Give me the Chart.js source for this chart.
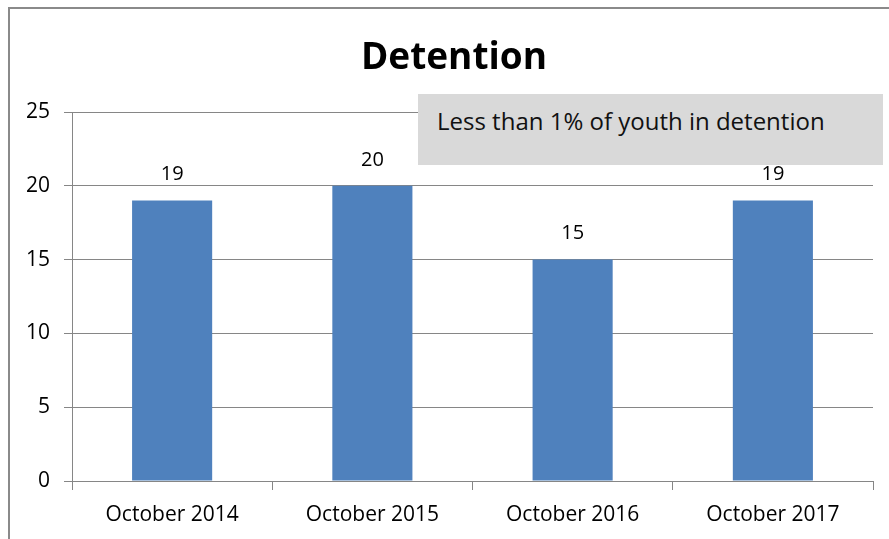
<!DOCTYPE html>
<html>
<head>
<meta charset="utf-8">
<script src="https://cdn.jsdelivr.net/npm/chart.js@4/dist/chart.umd.min.js"></script>
<style>
  html, body { margin: 0; padding: 0; background: #fff; }
  #wrap { position: relative; width: 889px; height: 539px; }
  #title {
    position: absolute; left: 254px; width: 400px; top: 31px; text-align: center;
    font-family: 'Open Sans', sans-serif; font-weight: bold; font-size: 37px; line-height: 48px; color: #000;
  }
  #note {
    position: absolute; left: 418px; top: 94px; width: 465px; height: 71px;
    background: #d9d9d9; font-family: 'Open Sans', sans-serif; font-size: 24px; color: #111;
    box-sizing: border-box; padding: 10px 0 0 19px;
  }
</style>
</head>
<body>
<div id="wrap">
  <canvas id="detentionChart" width="889" height="539"></canvas>
  <div id="title">Detention</div>
  <div id="note">Less than 1% of youth in detention</div>
</div>
<script>
// chart data
const categories = ['October 2014', 'October 2015', 'October 2016', 'October 2017'];
const detentionCounts = [19, 20, 15, 19];
const yTicks = [0, 5, 10, 15, 20, 25];

const gridGray = '#868686';
const fontFamily = "'Open Sans', sans-serif";

// frame line along top and left, like the original sheet border
const framePlugin = {
  id: 'frame',
  beforeDraw(chart) {
    const ctx = chart.ctx;
    ctx.save();
    ctx.strokeStyle = '#8a8a8a';
    ctx.lineWidth = 2;
    ctx.beginPath();
    ctx.moveTo(9, chart.height);
    ctx.lineTo(9, 8);
    ctx.lineTo(chart.width, 8);
    ctx.stroke();
    ctx.restore();
  }
};

// value labels above each bar
const valueLabels = {
  id: 'valueLabels',
  afterDatasetsDraw(chart) {
    const ctx = chart.ctx;
    const meta = chart.getDatasetMeta(0);
    ctx.save();
    ctx.font = '20px ' + fontFamily;
    ctx.fillStyle = '#000';
    ctx.textAlign = 'center';
    ctx.textBaseline = 'middle';
    meta.data.forEach((bar, i) => {
      ctx.fillText(detentionCounts[i], bar.x, bar.y - 26);
    });
    ctx.restore();
  }
};

new Chart(document.getElementById('detentionChart'), {
  type: 'bar',
  data: {
    labels: categories,
    datasets: [{
      data: detentionCounts,
      backgroundColor: '#4f81bd',
      barPercentage: 0.4,
      categoryPercentage: 1
    }]
  },
  options: {
    responsive: false,
    animation: false,
    layout: { padding: { left: 0, right: 16, top: 112, bottom: 0 } },
    plugins: {
      legend: { display: false },
      tooltip: { enabled: false },
      title: { display: false }
    },
    scales: {
      y: {
        min: 0,
        max: 25,
        afterFit: s => { s.width = 72; },
        afterBuildTicks: s => { s.ticks = yTicks.map(v => ({ value: v })); },
        border: { color: gridGray, width: 1 },
        grid: { color: gridGray, lineWidth: 1, tickLength: 8, tickColor: gridGray },
        ticks: { color: '#000', padding: 14, font: { family: fontFamily, size: 21 } }
      },
      x: {
        afterFit: s => { s.height = 58; },
        border: { color: gridGray, width: 1 },
        grid: { drawOnChartArea: false, offset: true, tickLength: 9, tickColor: gridGray },
        ticks: { color: '#000', padding: 12, font: { family: fontFamily, size: 21 } }
      }
    }
  },
  plugins: [framePlugin, valueLabels]
});
</script>
</body>
</html>
